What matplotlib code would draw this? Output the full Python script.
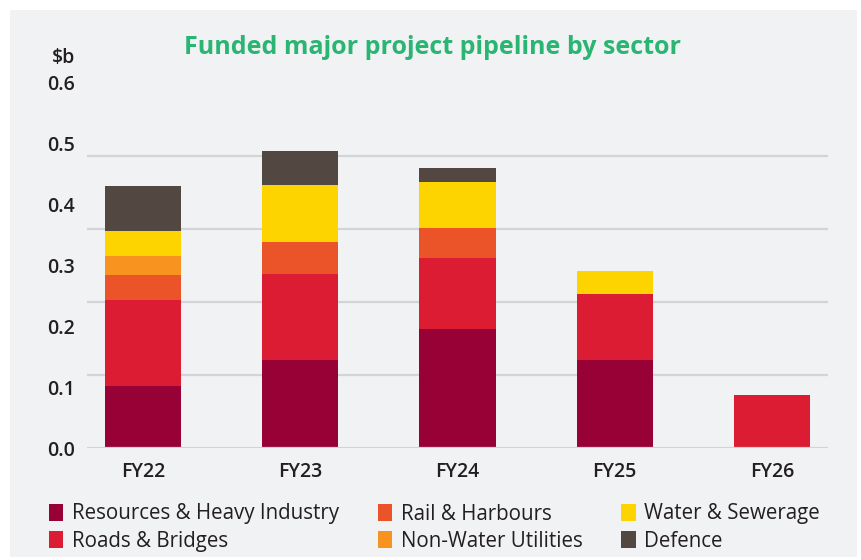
import matplotlib
matplotlib.use("Agg")
import matplotlib.pyplot as plt
import numpy as np
from matplotlib.patches import Rectangle

# values in $b
years = ["FY22", "FY23", "FY24", "FY25", "FY26"]
resources = [0.102, 0.145, 0.196, 0.145, 0.0]
roads = [0.141, 0.141, 0.117, 0.108, 0.087]
rail = [0.041, 0.053, 0.048, 0.0, 0.0]
non_water = [0.031, 0.0, 0.0, 0.0, 0.0]
water = [0.041, 0.094, 0.076, 0.038, 0.0]
defence = [0.074, 0.056, 0.023, 0.0, 0.0]

series = [
    ("Resources & Heavy Industry", resources, "#970136"),
    ("Roads & Bridges", roads, "#dc1c32"),
    ("Rail & Harbours", rail, "#eb5428"),
    ("Non-Water Utilities", non_water, "#f7931e"),
    ("Water & Sewerage", water, "#fdd300"),
    ("Defence", defence, "#534742"),
]
y_labels = [0.0, 0.1, 0.2, 0.3, 0.4, 0.5, 0.6]

plt.rcParams["font.family"] = ["Open Sans", "DejaVu Sans"]
W, H = 861, 560
fig = plt.figure(figsize=(W / 100, H / 100), dpi=100)
fig.patch.set_facecolor("white")
fig.patches.append(Rectangle((10 / W, 3 / H), 847 / W, 547 / H,
                             transform=fig.transFigure, facecolor="#f1f2f4",
                             edgecolor="none", zorder=-10))

ax = fig.add_axes([87 / W, 1 - 448 / H, 741 / W, 365 / H])
ax.set_facecolor("none")
x = np.arange(len(years))
bottom = np.zeros(len(years))
handles = {}
for name, vals, col in series:
    vals = np.array(vals)
    b = ax.bar(x, vals, width=0.484, bottom=bottom, color=col, zorder=2,
               label=name)
    handles[name] = b
    bottom += vals

ax.set_xlim(-0.357, len(years) - 1 + 0.357)
ax.set_ylim(0, 0.6)
# gridlines sit on a 5-step grid, labels on a 6-step one (as in the source)
ax.set_yticks(np.linspace(0, 0.6, 6), minor=True)
ax.grid(True, which="minor", axis="y", color="#d3d4d6", linewidth=1.6, zorder=1)
ax.axhline(0, color="#d3d4d6", linewidth=1.6, zorder=3)
ax.set_yticks(y_labels)
ax.set_yticklabels([f"{v:.1f}" for v in y_labels], fontweight="semibold")
ax.tick_params(axis="y", which="both", length=0, pad=9, labelsize=14,
               labelcolor="#231f20")
ax.set_xticks(x)
ax.set_xticklabels(years, fontweight="semibold")
ax.tick_params(axis="x", length=0, pad=10, labelsize=14, labelcolor="#231f20")
for s in ax.spines.values():
    s.set_visible(False)

fig.text(75 / W, 1 - 58 / H, "$b", ha="right", va="center", fontsize=14,
         fontweight="semibold", color="#231f20")
fig.text(433 / W, 1 - 48 / H, "Funded major project pipeline by sector",
         ha="center", va="center", fontsize=18, fontweight="bold",
         color="#2bb573")

order = ["Resources & Heavy Industry", "Roads & Bridges", "Rail & Harbours",
         "Non-Water Utilities", "Water & Sewerage", "Defence"]
fig.legend([handles[n] for n in order], order, ncol=3, loc="upper left",
           bbox_to_anchor=(30 / W, 1 - 485 / H), frameon=False, fontsize=14.8,
           handlelength=0.7, handleheight=0.85, handletextpad=0.42,
           columnspacing=1.9, labelspacing=0.3, labelcolor="#231f20")

fig.savefig("out.png", dpi=100, facecolor="white")
